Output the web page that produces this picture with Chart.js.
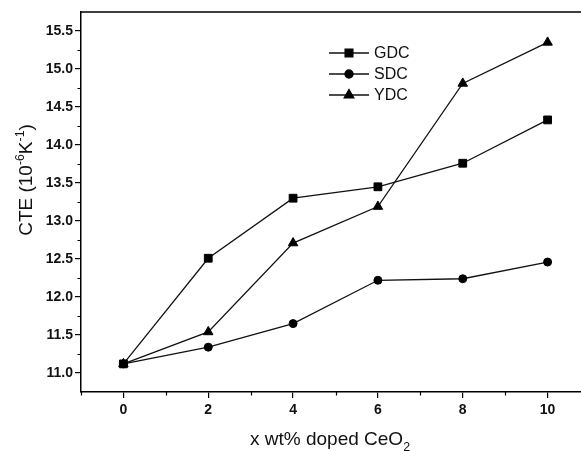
<!DOCTYPE html>
<html>
<head>
<meta charset="utf-8">
<script src="https://cdn.jsdelivr.net/npm/chart.js@4"></script>
<style>
  html, body { margin: 0; padding: 0; background: #fff; overflow: hidden; }
  canvas { display: block; }
</style>
</head>
<body>
<canvas id="cteChart" width="600" height="451"></canvas>
<script>
// dopant content (wt%) and thermal expansion coefficient (10^-6 K^-1)
var dopantLevels = [0, 2, 4, 6, 8, 10];
var gdcCte = [11.12, 12.51, 13.30, 13.45, 13.76, 14.33];
var sdcCte = [11.12, 11.34, 11.65, 12.22, 12.24, 12.46];
var ydcCte = [11.12, 11.54, 12.71, 13.19, 14.81, 15.35];
var seriesNames = ['GDC', 'SDC', 'YDC'];
var xTickLabels = ['0', '2', '4', '6', '8', '10'];
var yTickLabels = ['11.0', '11.5', '12.0', '12.5', '13.0', '13.5', '14.0', '14.5', '15.0', '15.5'];

var FONT = '"Liberation Sans", Arial, Helvetica, sans-serif';
var INK = '#111';

function pairUp(ys) {
  return dopantLevels.map(function (x, i) { return { x: x, y: ys[i] }; });
}

function series(name, ys, style, radius) {
  return {
    label: name,
    data: pairUp(ys),
    borderColor: INK,
    borderWidth: 1.3,
    pointStyle: style,
    pointRadius: radius,
    pointBackgroundColor: '#000',
    pointBorderColor: '#000',
    pointBorderWidth: 1,
    tension: 0,
    fill: false
  };
}

// text with superscript / subscript pieces, centred on (cx, cy)
function drawRich(ctx, parts, size, cx, cy, angle) {
  var total = 0;
  parts.forEach(function (p) {
    var s = p.sup || p.sub ? size * 0.65 : size;
    ctx.font = s + 'px ' + FONT;
    p.w = ctx.measureText(p.t).width;
    p.s = s;
    total += p.w;
  });
  ctx.save();
  ctx.translate(cx, cy);
  ctx.rotate(angle);
  ctx.fillStyle = INK;
  ctx.textBaseline = 'alphabetic';
  ctx.textAlign = 'left';
  var x = -total / 2;
  var base = size * 0.36;
  parts.forEach(function (p) {
    ctx.font = p.s + 'px ' + FONT;
    var dy = p.sup ? -size * 0.42 : (p.sub ? size * 0.3 : 0);
    ctx.fillText(p.t, x, base + dy);
    x += p.w;
  });
  ctx.restore();
}

var decorations = {
  id: 'decorations',
  afterDraw: function (chart) {
    var ctx = chart.ctx;
    var a = chart.chartArea;
    var xs = chart.scales.x;
    var ys = chart.scales.y;
    ctx.save();
    ctx.strokeStyle = '#000';
    ctx.lineWidth = 1.5;
    // frame top and right
    ctx.beginPath();
    ctx.moveTo(a.left, a.top);
    ctx.lineTo(a.right, a.top);
    ctx.lineTo(a.right, a.bottom);
    ctx.stroke();

    // minor ticks
    ctx.lineWidth = 1.2;
    ctx.beginPath();
    for (var v = -1; v <= 11; v += 2) {
      var px = Math.round(xs.getPixelForValue(v)) + 0.5;
      ctx.moveTo(px, a.bottom);
      ctx.lineTo(px, a.bottom + 3.5);
    }
    for (var w = 11.25; w < 15.75; w += 0.5) {
      var py = Math.round(ys.getPixelForValue(w)) + 0.5;
      ctx.moveTo(a.left, py);
      ctx.lineTo(a.left - 3.5, py);
    }
    ctx.stroke();

    // legend: line - marker - line, then name
    var legendY = [53, 74, 95];
    chart.data.datasets.forEach(function (ds, i) {
      var y = legendY[i];
      ctx.strokeStyle = INK;
      ctx.lineWidth = 1.3;
      ctx.beginPath();
      ctx.moveTo(329, y);
      ctx.lineTo(369, y);
      ctx.stroke();
      ctx.fillStyle = '#000';
      ctx.strokeStyle = '#000';
      Chart.helpers.drawPoint(ctx, {
        pointStyle: ds.pointStyle,
        radius: ds.pointRadius,
        rotation: 0,
        borderWidth: 1
      }, 349, y);
      ctx.fillStyle = INK;
      ctx.font = '16px ' + FONT;
      ctx.textAlign = 'left';
      ctx.textBaseline = 'middle';
      ctx.fillText(ds.label, 374, y + 1);
    });
    ctx.restore();

    // axis titles
    drawRich(ctx, [{ t: 'CTE (10' }, { t: '-6', sup: true }, { t: 'K' }, { t: '-1', sup: true }, { t: ')' }],
      19, 25, 180, -Math.PI / 2);
    drawRich(ctx, [{ t: 'x wt% doped CeO' }, { t: '2', sub: true }], 19, 330, 438, 0);
  }
};

var ctx = document.getElementById('cteChart').getContext('2d');
new Chart(ctx, {
  type: 'line',
  data: {
    datasets: [
      series(seriesNames[0], gdcCte, 'rect', 5.5),
      series(seriesNames[1], sdcCte, 'circle', 4),
      series(seriesNames[2], ydcCte, 'triangle', 5.5)
    ]
  },
  options: {
    responsive: false,
    animation: false,
    layout: { padding: { top: 12, right: 10, left: 0, bottom: 0 } },
    plugins: {
      legend: { display: false },
      tooltip: { enabled: false }
    },
    scales: {
      x: {
        type: 'linear',
        min: -1,
        max: 11,
        afterFit: function (scale) { scale.height = 59; },
        afterBuildTicks: function (scale) {
          scale.ticks = xTickLabels.map(function (t) { return { value: parseFloat(t) }; });
        },
        border: { display: true, color: '#000', width: 1.5 },
        grid: { drawOnChartArea: false, drawTicks: true, tickLength: 6, color: '#000', tickColor: '#000', lineWidth: 1.2 },
        ticks: {
          autoSkip: false,
          maxRotation: 0,
          padding: 4,
          color: INK,
          font: { family: FONT, size: 14, weight: 'bold' },
          callback: function (value, index) { return xTickLabels[index]; }
        }
      },
      y: {
        min: 10.75,
        max: 15.75,
        afterFit: function (scale) { scale.width = 81; },
        afterBuildTicks: function (scale) {
          scale.ticks = yTickLabels.map(function (t) { return { value: parseFloat(t) }; });
        },
        border: { display: true, color: '#000', width: 1.5 },
        grid: { drawOnChartArea: false, drawTicks: true, tickLength: 6, color: '#000', tickColor: '#000', lineWidth: 1.2 },
        ticks: {
          autoSkip: false,
          padding: 2,
          color: INK,
          font: { family: FONT, size: 14, weight: 'bold' },
          callback: function (value, index) { return yTickLabels[index]; }
        }
      }
    }
  },
  plugins: [decorations]
});
</script>
</body>
</html>
